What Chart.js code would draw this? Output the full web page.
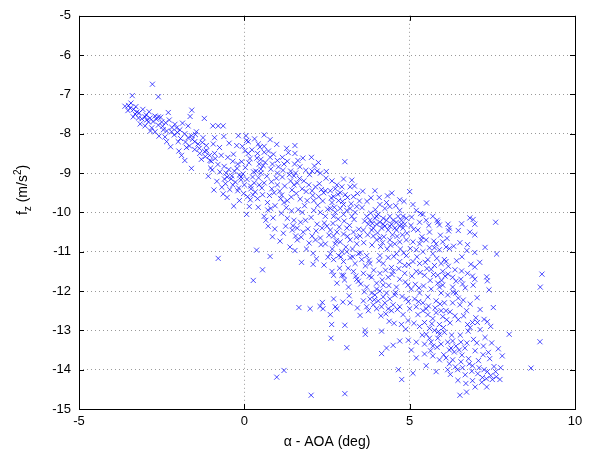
<!DOCTYPE html>
<html>
<head>
<meta charset="utf-8">
<script src="https://cdn.jsdelivr.net/npm/chart.js@4.4.1/dist/chart.umd.min.js"></script>
<style>
  html, body { margin: 0; padding: 0; background: #fff; }
  canvas { display: block; }
</style>
</head>
<body>
<canvas id="aoaChart" width="606" height="458"></canvas>
<script>
// alpha (deg) vs f_z (m/s^2)
const tailPts = [
  [-3.61,-7.30],[-3.39,-7.03],[-3.45,-7.35],[-3.35,-7.38],[-3.30,-7.50],[-3.25,-7.45],[-3.50,-7.28],
  [-2.78,-6.74],[-2.60,-7.06],[-3.00,-7.57],[-2.85,-7.60],[-2.70,-7.55],[-2.60,-7.57],[-2.90,-7.70],
  [-2.30,-7.46],[-1.59,-7.40],[-1.64,-7.56],[-1.21,-7.61],[-3.15,-7.75],[-3.00,-7.80],[-2.80,-7.85],
  [-2.60,-7.78],[-2.45,-7.90],[-2.35,-7.93],[-2.10,-7.76],[-2.05,-7.85],[-1.70,-7.80],[-2.40,-8.08],
  [-2.35,-8.20],[-1.80,-8.00],[-1.70,-8.10],[-1.60,-8.05],[-1.50,-8.20],[-1.40,-8.26],[-1.90,-8.55],
  [-1.80,-8.68],[-1.50,-8.40],[-1.35,-8.50],[-1.20,-8.45],[-1.00,-8.70],[-1.60,-8.88],[-1.09,-9.08],
  [-0.95,-7.80],[-2.20,-7.95],[-2.95,-7.65],[-3.10,-7.62],[-2.50,-7.70],[-1.95,-7.90],[-1.45,-7.95],
  [-1.25,-8.10],[-1.15,-8.30],[-1.05,-8.55],[-1.30,-8.65],[-1.75,-8.35],[-2.00,-8.20],[-2.70,-7.95],
  [-3.20,-7.60],[-1.14,-8.43],[-1.04,-8.68],[-0.94,-8.26]
];
const tailFillPts = [
  [-3.52,-7.41],[-3.43,-7.22],[-3.28,-7.31],[-3.18,-7.47],[-3.07,-7.38],[-2.97,-7.52],[-2.88,-7.44],
  [-2.76,-7.69],[-2.66,-7.63],[-2.53,-7.58],[-2.47,-7.81],[-2.38,-7.72],[-2.27,-7.65],[-2.19,-7.84],
  [-2.12,-8.03],[-2.02,-7.97],[-1.93,-8.12],[-1.87,-7.73],[-1.78,-8.21],[-1.66,-8.31],[-1.57,-8.14],
  [-1.48,-8.02],[-1.36,-8.37],[-1.27,-8.22],[-1.18,-8.58],[-3.36,-7.57],[-2.84,-7.93],[-2.58,-8.06],
  [-2.23,-8.33],[-1.98,-8.44]
];
const upperPts = [
  [-0.79,-7.80],[-0.64,-7.80],[-0.90,-8.10],[-0.18,-8.05],[-0.23,-8.30],[0.07,-8.17],[0.12,-8.20],
  [0.60,-8.03],[0.78,-8.15],[0.42,-8.26],[0.60,-8.32],[-0.75,-8.35],[-0.70,-8.55],[-0.90,-8.50],
  [-0.50,-8.60],[-0.35,-8.70],[-0.20,-8.77],[-0.80,-8.78],[0.02,-8.43],[0.12,-8.50],[0.17,-8.63],
  [0.40,-8.50],[0.50,-8.65],[0.60,-8.47],[0.45,-8.77],[0.78,-8.60],[0.85,-8.77],[1.00,-8.68],
  [1.15,-8.60],[1.20,-8.77],[1.30,-8.70],[1.40,-8.95],[1.50,-9.07],[1.55,-9.00],[1.68,-8.84],
  [2.05,-8.95],[2.30,-9.00],[0.35,-8.95],[0.50,-9.00],[-0.30,-8.95],[-0.15,-9.05],[-0.10,-9.10],
  [-0.55,-9.00],[-0.52,-9.10],[0.50,-8.90],[0.80,-8.90],[1.53,-8.30],[1.53,-8.50],[2.03,-8.60],
  [3.04,-8.71],[2.20,-8.95],[0.00,-9.30],[0.20,-9.40],[0.90,-9.50],[1.00,-9.30],[1.15,-9.10],
  [1.00,-9.00],[0.25,-9.10],[-0.35,-9.30],[0.15,-9.85]
];
const upperFillPts = [
  [-0.97,-8.92],[-0.88,-8.63],[-0.83,-9.21],[-0.74,-8.97],[-0.68,-9.36],[-0.61,-8.83],[-0.57,-9.27],
  [-0.47,-8.91],[-0.44,-9.42],[-0.38,-9.07],[-0.33,-8.52],[-0.27,-9.23],[-0.22,-8.88],[-0.17,-9.38],
  [-0.08,-8.71],[-0.04,-9.02],[0.03,-8.86],[0.08,-9.16],[0.14,-8.74],[0.19,-9.33],[0.23,-8.41],
  [0.28,-8.97],[0.33,-9.48],[0.38,-8.62],[0.43,-9.12],[0.47,-8.34],[0.53,-9.38],[0.57,-8.81],
  [-0.46,-8.24],[-0.06,-8.32],[0.31,-8.13],[-0.62,-8.07],[-1.02,-8.87],[-0.92,-9.43],[-0.52,-9.62],
  [-0.02,-9.52],[0.18,-9.68],[0.42,-9.87],[-0.32,-9.84],[0.05,-8.05]
];
const midLeftPts = [
  [-0.60,-9.15],[-0.40,-9.15],[-0.10,-9.17],[-0.64,-9.53],[-0.20,-9.45],[-0.15,-9.70],[0.10,-9.60],
  [0.07,-10.05],[0.30,-9.25],[0.45,-9.30],[0.60,-9.25],[0.83,-9.40],[0.26,-9.55],[0.40,-9.65],
  [0.55,-9.55],[0.70,-9.75],[0.80,-9.90],[0.60,-10.10],[0.65,-10.20],[0.87,-10.14],[0.72,-10.35],
  [1.10,-9.65],[1.20,-9.75],[1.30,-9.70],[1.40,-9.20],[1.50,-9.30],[1.60,-9.25],[1.75,-9.40],
  [1.43,-9.96],[1.75,-10.00],[1.85,-10.20],[1.30,-10.15],[1.50,-10.20],[1.70,-10.25],[1.25,-10.35],
  [1.45,-10.45],[1.60,-10.40],[1.78,-10.50],[1.55,-10.60],[1.60,-10.70],[1.80,-9.20],[1.95,-9.30],
  [2.15,-9.35],[2.05,-9.45],[2.25,-9.60],[2.40,-9.50],[2.45,-9.45],[1.90,-9.70],[2.10,-9.70],
  [2.10,-9.95],[2.30,-10.00],[2.45,-10.10],[2.20,-10.30],[2.35,-10.40],[2.50,-10.35],[2.05,-10.60],
  [2.15,-10.70],[2.30,-10.65],[2.45,-10.80],[1.88,-10.93],[2.08,-11.04],[2.53,-11.14],[1.73,-11.27],
  [2.08,-11.32],[0.37,-10.96],[0.78,-11.12],[-0.79,-11.17],[0.55,-11.46],[0.27,-11.73],[2.70,-11.60],
  [2.65,-9.20],[2.80,-9.30],[3.00,-9.15]
];
const midLeftFillPts = [
  [0.63,-8.73],[0.68,-9.08],[0.73,-8.44],[0.76,-9.57],[0.82,-9.22],[0.88,-8.52],[0.93,-9.83],
  [0.97,-9.13],[1.03,-8.84],[1.07,-9.46],[1.12,-10.02],[1.17,-8.93],[1.22,-9.33],[1.27,-9.88],
  [1.33,-8.48],[1.36,-9.04],[1.42,-9.61],[1.47,-10.34],[1.52,-8.77],[1.57,-9.52],[1.63,-9.93],
  [1.67,-9.14],[1.72,-10.63],[1.77,-8.62],[1.82,-9.83],[1.87,-9.47],[1.92,-10.42],[1.97,-9.04],
  [2.02,-10.13],[2.07,-9.57],[2.12,-8.82],[2.17,-10.47],[2.22,-9.82],[2.27,-9.27],[2.32,-10.82],
  [2.37,-9.71],[2.42,-10.27],[2.47,-9.13],[2.52,-9.92],[2.56,-10.58],[0.92,-10.42],[1.08,-10.73],
  [1.38,-10.88],[1.18,-10.53],[0.98,-8.27],[1.28,-8.37],[1.62,-8.68],[1.86,-8.93],[2.24,-8.73],
  [2.48,-8.96],[0.71,-9.94],[1.53,-10.97],[2.18,-11.18],[2.41,-11.34],[1.96,-10.78],[0.85,-10.62],
  [1.13,-9.56],[1.44,-9.43],[2.33,-9.42],[1.69,-9.66]
];
const lowLeftPts = [
  [1.65,-12.42],[1.99,-12.45],[2.29,-12.39],[2.36,-12.29],[2.38,-12.45],[2.60,-12.60],[2.62,-13.20],
  [1.20,-14.02],[0.98,-14.19],[2.02,-14.65]
];
const centrePts = [
  [3.25,-9.18],[3.95,-9.45],[4.46,-9.51],[4.70,-9.68],[5.00,-9.47],[5.51,-9.76],[5.10,-9.80],[5.20,-9.95],
  [2.60,-9.45],[2.70,-9.60],[2.75,-9.40],[2.85,-9.70],[2.90,-9.50],[3.00,-9.80],[3.05,-9.55],[2.65,-9.75],
  [2.95,-9.35],[3.20,-9.35],[3.30,-9.60],[3.20,-9.90],[3.25,-10.10],[4.10,-9.80],[4.25,-9.90],[4.40,-9.85],
  [4.30,-9.75],[4.70,-9.95],[4.80,-10.10],[2.60,-9.90],[2.75,-10.00],[2.90,-9.90],[3.00,-10.05],[3.10,-9.95],
  [3.35,-10.00],[2.70,-10.10],[3.40,-9.85],[3.70,-10.10],[3.75,-10.30],[3.80,-10.20],[3.90,-10.40],
  [3.95,-10.15],[4.00,-10.30],[4.05,-10.05],[4.10,-10.25],[4.15,-10.40],[4.20,-10.15],[4.25,-10.35],
  [4.30,-10.20],[4.35,-10.45],[4.40,-10.10],[4.45,-10.30],[4.50,-10.20],[4.55,-10.40],[4.60,-10.25],
  [4.65,-10.10],[4.70,-10.35],[4.75,-10.20],[4.80,-10.40],[4.85,-10.30],[4.90,-10.15],[3.85,-10.45],
  [4.00,-10.10],[4.20,-10.30],[4.40,-10.35],[4.60,-10.45],[4.75,-10.30],[5.40,-10.05],[5.50,-10.20],
  [5.70,-10.10],[5.85,-10.25],[5.90,-10.32],[5.30,-10.25],[5.25,-10.45],[5.60,-10.50],[2.60,-10.45],
  [2.70,-10.60],[2.80,-10.50],[2.90,-10.75],[3.00,-10.55],[3.10,-10.40],[3.20,-10.70],[3.30,-10.50],
  [3.40,-10.80],[3.50,-10.60],[3.60,-10.45],[2.75,-10.80],[3.90,-10.60],[4.00,-10.70],[4.10,-10.65],
  [4.40,-10.70],[4.55,-10.80],[4.70,-10.75],[4.90,-10.70],[5.10,-10.75],[5.20,-10.95],[5.30,-10.80],
  [5.40,-11.00],[5.50,-10.70],[5.60,-10.90],[5.70,-11.05],[5.80,-10.80],[5.90,-10.95],[6.00,-10.75],
  [5.35,-10.70],[5.75,-10.90],[2.60,-11.05],[2.70,-11.20],[2.85,-11.10],[3.00,-11.25],[3.10,-11.00],
  [3.20,-11.15],[3.35,-11.30],[3.45,-11.05],[3.55,-11.20],[3.70,-11.10],[3.80,-11.30],[2.95,-11.00],
  [4.10,-11.10],[4.20,-11.30],[4.35,-11.15],[4.45,-11.40],[4.60,-11.05],[4.70,-11.25],[4.85,-11.35],
  [4.90,-11.10],[5.10,-11.25],[5.20,-11.50],[5.30,-11.30],[5.45,-11.60],[5.55,-11.20],[5.65,-11.45],
  [5.75,-11.35],[5.85,-11.60],[5.95,-11.30],[6.00,-11.50],[2.65,-11.50],[2.80,-11.80],[3.00,-11.60],
  [3.15,-11.90],[3.30,-11.50],[3.45,-11.75],[3.60,-11.55],[3.70,-11.90],[3.85,-11.65],[4.00,-11.80],
  [4.10,-11.55],[4.20,-11.85],[4.35,-11.65],[4.50,-11.50],[4.60,-11.90],[4.70,-11.70],[4.85,-11.55],
  [4.95,-11.85],[5.85,-11.80],[5.90,-11.90],[5.83,-10.20]
];
const centreFillPts = [
  [2.63,-9.63],[2.68,-10.28],[2.72,-9.87],[2.78,-10.72],[2.83,-9.54],[2.87,-10.37],[2.92,-11.13],
  [2.97,-9.72],[3.02,-10.22],[3.07,-10.88],[3.12,-9.62],[3.14,-11.42],[3.18,-10.33],[3.23,-9.78],
  [3.27,-10.93],[3.32,-10.18],[3.37,-11.62],[3.42,-9.52],[3.46,-10.43],[3.51,-11.03],[3.56,-9.88],
  [3.61,-10.77],[3.66,-11.36],[3.71,-9.72],[3.73,-10.57],[3.77,-11.22],[3.82,-10.02],[3.86,-10.83],
  [3.91,-11.47],[3.96,-9.93],[2.66,-10.93],[2.88,-11.42],[3.03,-11.72],[3.28,-11.13],[3.52,-11.82],
  [3.78,-11.62],[3.93,-12.22],[3.17,-12.12],[3.42,-12.43],[3.63,-12.02],[2.98,-12.28],[3.33,-9.33],
  [3.58,-9.46],[3.83,-9.63],[3.48,-9.71],[3.87,-10.28],[3.12,-10.61],[2.84,-10.17],[3.64,-10.22],
  [3.39,-10.63],
  [4.03,-10.52],[4.07,-11.23],[4.12,-10.87],[4.17,-11.72],[4.22,-10.62],[4.27,-11.47],[4.32,-10.93],
  [4.37,-11.86],[4.42,-10.83],[4.47,-11.58],[4.52,-11.12],[4.57,-12.04],[4.62,-10.61],[4.67,-11.43],
  [4.72,-10.93],[4.77,-12.14],[4.82,-11.03],[4.87,-11.77],[4.92,-10.53],[4.97,-11.33],[5.02,-10.92],
  [5.07,-11.62],[5.12,-10.43],[5.17,-11.83],[5.22,-11.13],[5.27,-12.27],[5.32,-11.53],[5.37,-10.62],
  [5.42,-11.87],[5.47,-11.27],[4.08,-9.62],[4.33,-9.58],[4.58,-9.83],[4.83,-9.72],[5.06,-10.12],
  [5.33,-10.03],[4.13,-12.63],[4.38,-12.77],[4.63,-12.47],[4.88,-12.97],[5.13,-12.82],[5.38,-13.12],
  [4.48,-10.57],[4.18,-10.77],[4.78,-10.57],[5.04,-10.33],[4.28,-12.58],[4.53,-12.82],[4.96,-12.27],
  [5.28,-11.92]
];
const lowerPts = [
  [2.70,-12.20],[2.75,-12.40],[2.80,-12.45],[3.20,-12.30],[3.40,-11.70],[2.95,-11.60],[2.64,-12.85],
  [3.04,-12.87],[3.50,-12.62],[3.65,-13.00],[3.66,-13.10],[4.15,-13.02],[3.10,-13.44],[4.15,-13.59],
  [4.30,-13.45],[4.50,-13.38],[4.70,-13.27],[4.96,-13.25],[4.66,-14.00],[4.76,-14.25],[5.10,-14.09],
  [5.05,-13.50],[5.20,-13.70],[3.04,-14.61],[3.70,-12.40],[3.80,-12.20],[3.90,-12.35],[3.95,-12.10],
  [4.00,-12.45],[4.05,-12.25],[4.10,-12.00],[4.15,-12.40],[4.20,-12.15],[4.25,-12.30],[4.30,-12.05],
  [4.35,-12.45],[4.40,-12.20],[4.50,-12.35],[4.55,-12.10],[3.85,-12.05],[4.00,-11.95],[3.75,-12.50],
  [4.45,-12.50],[3.60,-12.25],[4.70,-12.40],[4.80,-12.60],[4.75,-12.85],[4.95,-12.75],[5.00,-12.45],
  [4.90,-12.20],[5.40,-12.50],[5.45,-12.80],[5.50,-13.10],[5.55,-12.60],[5.60,-12.95],[5.65,-13.30],
  [5.70,-12.70],[5.75,-13.00],[5.80,-12.55],[5.85,-13.20],[5.90,-12.85],[5.95,-13.35],[6.00,-12.65],
  [6.05,-13.05],[5.50,-12.45],[5.70,-13.40],[5.95,-12.50],[5.60,-13.20],[5.90,-13.10],[5.45,-13.35],
  [5.45,-13.60],[5.50,-13.90],[5.70,-13.65],[5.90,-13.75],[5.80,-14.05],[5.20,-13.30],[5.30,-12.90],
  [5.25,-12.60],[5.05,-11.95],[5.15,-12.20],[5.30,-12.05],[5.40,-12.30],[5.55,-12.15],[5.65,-11.95],
  [5.80,-12.25],[5.95,-12.05],[6.05,-12.30],[5.20,-12.40]
];
const lowerFillPts = [
  [5.52,-11.43],[5.57,-12.38],[5.62,-11.73],[5.67,-12.83],[5.72,-11.58],[5.77,-12.43],[5.82,-11.17],
  [5.87,-13.03],[5.92,-12.33],[5.97,-11.73],[6.02,-12.93],[6.07,-11.62],[6.12,-12.73],[6.17,-11.37],
  [6.22,-12.53],[6.27,-13.12],[6.32,-12.03],[6.37,-12.63],[6.42,-11.23],[6.47,-12.18],[5.58,-10.33],
  [5.73,-10.73],[5.93,-10.58],[6.13,-10.66],[6.33,-10.86],[5.63,-13.52],[5.83,-13.43],[6.03,-13.62],
  [6.23,-14.12],[6.38,-13.93]
];
const rightPts = [
  [7.04,-12.17],[6.52,-12.35],[6.72,-12.50],[7.53,-12.42],[6.47,-12.73],[6.22,-12.81],[6.75,-12.85],
  [6.90,-12.80],[7.00,-12.68],[7.05,-12.80],[7.25,-12.72],[7.35,-12.78],[7.45,-12.90],[6.77,-13.02],
  [8.01,-13.10],[8.94,-13.29],[6.15,-13.30],[6.25,-13.45],[6.30,-13.27],[6.40,-13.40],[6.50,-13.50],
  [6.55,-13.30],[6.67,-13.45],[6.20,-13.50],[6.35,-13.55],[6.10,-13.70],[6.20,-13.85],[6.30,-13.75],
  [6.45,-14.00],[6.55,-13.80],[6.60,-13.95],[6.15,-14.00],[7.23,-13.40],[7.38,-13.56],[6.98,-13.52],
  [7.80,-13.65],[6.80,-13.85],[6.90,-13.90],[7.10,-13.95],[7.25,-14.00],[7.35,-14.05],[7.60,-14.05],
  [7.75,-13.95],[8.67,-13.96],[7.06,-14.10],[7.20,-14.20],[7.45,-14.15],[7.50,-14.25],[7.73,-14.25],
  [6.46,-14.27],[6.70,-14.35],[6.90,-14.28],[7.33,-14.44],[6.72,-14.57],[6.52,-14.65],[6.00,-11.85],
  [6.15,-12.10],[6.30,-12.30],[6.10,-12.50],[6.40,-12.05],[6.82,-10.14],[6.92,-10.18],[6.97,-10.30],
  [6.57,-10.29],[7.60,-10.25],[6.16,-10.30],[6.20,-10.40],[6.18,-10.47],[6.47,-10.46],[6.82,-10.50],
  [6.97,-10.57],[6.75,-10.82],[6.10,-10.88],[6.20,-10.92],[7.28,-10.89],[6.97,-11.02],[7.63,-11.06],
  [6.05,-11.20],[6.10,-11.25],[6.37,-11.46],[6.57,-11.49],[6.85,-11.32],[6.97,-11.39],[6.16,-11.57],
  [6.30,-11.65],[6.40,-11.75],[6.55,-11.70],[6.60,-11.82],[6.75,-11.55],[6.90,-11.62],[6.97,-11.70],
  [7.33,-11.64],[7.35,-11.74],[6.92,-11.85],[6.30,-11.90],[7.40,-11.97],[9.00,-11.57],[8.95,-11.90]
];
const rightFillPts = [
  [6.53,-13.12],[6.58,-13.63],[6.63,-12.63],[6.68,-14.13],[6.73,-13.32],[6.78,-13.72],[6.83,-12.93],
  [6.88,-14.04],[6.93,-13.23],[6.98,-14.44],[7.03,-13.32],[7.08,-13.77],[7.13,-12.98],[7.18,-14.32],
  [7.22,-13.62],[7.28,-13.18],[7.32,-14.23],[7.42,-13.72],[7.48,-13.32],[7.55,-13.92],[7.62,-14.18],
  [7.68,-13.47],[6.62,-12.23],[6.83,-12.33],[7.13,-12.47],[6.58,-11.13],[6.73,-10.97],[6.68,-11.92],
  [7.12,-11.27],[6.52,-10.77]
];

const xTicks = [-5, 0, 5, 10];
const yTicks = [-5, -6, -7, -8, -9, -10, -11, -12, -13, -14, -15];

const FONT = '"Liberation Sans", Arial, Helvetica, sans-serif';

const allPts = [].concat(
  tailPts, tailFillPts, upperPts, upperFillPts, midLeftPts, midLeftFillPts, lowLeftPts,
  centrePts, centreFillPts, lowerPts, lowerFillPts, rightPts, rightFillPts
).map(p => ({ x: p[0], y: p[1] }));

// box, inward ticks and axis labels, MATLAB style
const frame = {
  id: 'frame',
  afterDraw(chart) {
    const { ctx, chartArea: a, scales } = chart;
    ctx.save();
    ctx.strokeStyle = '#000';
    ctx.lineWidth = 1;
    ctx.beginPath();
    xTicks.forEach(v => {
      const px = Math.round(scales.x.getPixelForValue(v)) + 0.5;
      ctx.moveTo(px, a.bottom); ctx.lineTo(px, a.bottom - 5);
      ctx.moveTo(px, a.top); ctx.lineTo(px, a.top + 5);
    });
    yTicks.forEach(v => {
      const py = Math.round(scales.y.getPixelForValue(v)) + 0.5;
      ctx.moveTo(a.left, py); ctx.lineTo(a.left + 5, py);
      ctx.moveTo(a.right, py); ctx.lineTo(a.right - 5, py);
    });
    ctx.stroke();
    ctx.strokeRect(Math.round(a.left) + 0.5, Math.round(a.top) + 0.5,
      Math.round(a.right - a.left), Math.round(a.bottom - a.top));

    ctx.fillStyle = '#000';
    ctx.font = '14px ' + FONT;
    ctx.textAlign = 'center';
    ctx.textBaseline = 'alphabetic';
    ctx.fillText('\u03B1 - AOA (deg)', (a.left + a.right) / 2, 446);

    // y label with subscript z and superscript 2
    ctx.translate(27, 190);
    ctx.rotate(-Math.PI / 2);
    const big = '14px ' + FONT, small = '10px ' + FONT;
    const parts = [['f', big, 0], ['z', small, 4], [' (m/s', big, 0], ['2', small, -6], [')', big, 0]];
    let w = 0;
    parts.forEach(p => { ctx.font = p[1]; w += ctx.measureText(p[0]).width; });
    let cx = -w / 2;
    ctx.textAlign = 'left';
    parts.forEach(p => {
      ctx.font = p[1];
      ctx.fillText(p[0], cx, p[2]);
      cx += ctx.measureText(p[0]).width;
    });
    ctx.restore();
  }
};

new Chart(document.getElementById('aoaChart'), {
  type: 'scatter',
  data: {
    datasets: [{
      data: allPts,
      pointStyle: 'crossRot',
      radius: 3.6,
      borderWidth: 1,
      borderColor: 'rgba(0, 0, 255, 0.7)',
      backgroundColor: 'rgba(0, 0, 255, 0.7)'
    }]
  },
  options: {
    responsive: false,
    animation: false,
    events: [],
    layout: { padding: { top: 10, right: 31, left: 0, bottom: 0 } },
    plugins: { legend: { display: false }, tooltip: { enabled: false } },
    scales: {
      x: {
        type: 'linear',
        min: -5, max: 10,
        afterBuildTicks: s => { s.ticks = xTicks.map(v => ({ value: v })); },
        afterFit: s => { s.height = 49; },
        ticks: { color: '#000', font: { family: FONT, size: 13 }, padding: 5 },
        grid: {
          color: c => (c.tick.value === -5 || c.tick.value === 10) ? 'rgba(0,0,0,0)' : 'rgba(0,0,0,0.4)',
          drawTicks: false
        },
        border: { display: false, dash: [1, 3] }
      },
      y: {
        type: 'linear',
        min: -15, max: -5,
        afterBuildTicks: s => { s.ticks = yTicks.map(v => ({ value: v })); },
        afterFit: s => { s.width = 79; },
        ticks: { color: '#000', font: { family: FONT, size: 13 }, padding: 8 },
        grid: {
          color: c => (c.tick.value === -5 || c.tick.value === -15) ? 'rgba(0,0,0,0)' : 'rgba(0,0,0,0.4)',
          drawTicks: false
        },
        border: { display: false, dash: [1, 3] }
      }
    }
  },
  plugins: [frame]
});
</script>
</body>
</html>
